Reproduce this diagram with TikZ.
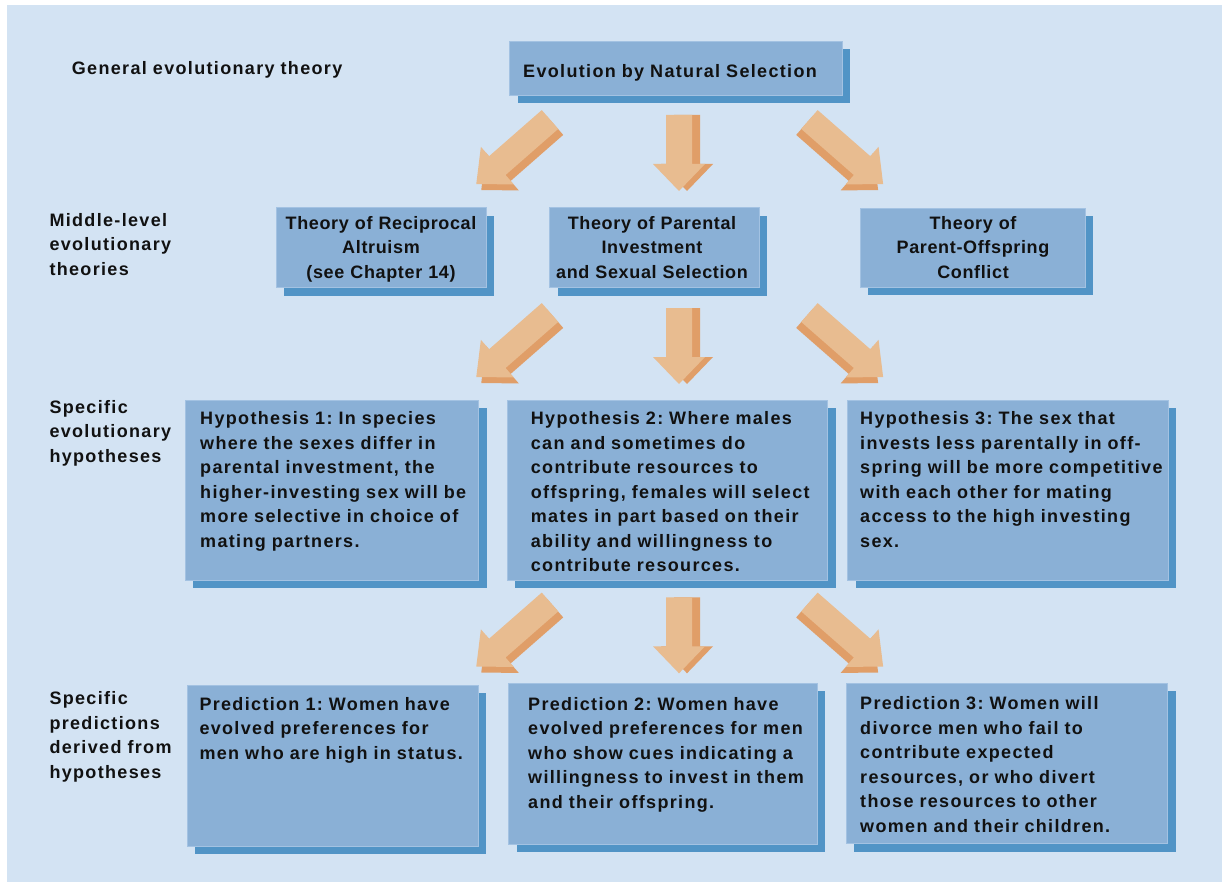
\documentclass[tikz,border=0pt]{standalone}
\usepackage{fontspec}
\setmainfont{Liberation Sans}[LetterSpace=7.4]
\newfontfamily\midfam{Liberation Sans}[LetterSpace=3.6]
\usetikzlibrary{shadows}
\definecolor{bgc}{HTML}{D3E3F3}
\definecolor{facec}{HTML}{8AB0D6}
\definecolor{edgec}{HTML}{A3C2E2}
\definecolor{shadowc}{HTML}{5194C6}
\definecolor{arrface}{HTML}{E8BC90}
\definecolor{arrdark}{HTML}{E09E68}
\definecolor{txtc}{HTML}{111111}
\frenchspacing
\newcommand\bodyfnt{\fontsize{18}{24.5}\selectfont\bfseries\frenchspacing}
\newcommand\midfnt{\midfam\fontsize{18}{24.5}\selectfont\bfseries\frenchspacing}
\tikzset{
  box/.style={fill=facec, draw=edgec, line width=0.8pt, inner sep=0pt, anchor=north west,
    drop shadow={shadow xshift=8pt, shadow yshift=-8pt, fill=shadowc, opacity=1}},
  txt/.style={inner sep=0pt, align=left, text width=360pt, anchor=base west, font=\bodyfnt, text=txtc},
  ctxt/.style={inner sep=0pt, align=center, text width=300pt, anchor=base, font=\midfnt, text=txtc},
  pics/barrow/.style n args={5}{code={
    \fill[#5] (-#2,0) -- (#2,0) -- (#2,#1) -- (#3,#1) -- (0,#1+#4) -- (-#3,#1) -- (-#2,#1) -- cycle;}},
}
\begin{document}
\begin{tikzpicture}[x=1pt, y=-1pt]
\useasboundingbox (0,0) rectangle (1222,882);
\fill[bgc] (7,5) rectangle (1222,882);

% boxes
\node[box, minimum width=332.4pt, minimum height=54pt] (top) at (509.3,41) {};
\node[box, minimum width=210pt, minimum height=80pt] (ra) at (276,207.3) {};
\node[box, minimum width=209.4pt, minimum height=80pt] (pi) at (549.3,207.3) {};
\node[box, minimum width=225pt, minimum height=79pt] (poc) at (860,207.7) {};
\node[box, minimum width=293.3pt, minimum height=180pt] (h1) at (185,400) {};
\node[box, minimum width=320.6pt, minimum height=180pt] (h2) at (506.7,400) {};
\node[box, minimum width=320.7pt, minimum height=180pt] (h3) at (847.3,400) {};
\node[box, minimum width=291pt, minimum height=160.7pt] (p1) at (186.7,685) {};
\node[box, minimum width=308.4pt, minimum height=160.8pt] (p2) at (508.3,682.7) {};
\node[box, minimum width=321.6pt, minimum height=160.6pt] (p3) at (845.7,682.7) {};

% box texts
\node[txt] (topt) at (523,78) {Evolution by Natural Selection};
\node[ctxt] (rat) at (381,229.5) {Theory of Reciprocal\\Altruism\\(see Chapter 14)};
\node[ctxt] (pit) at (652,229.5) {Theory of Parental\\Investment\\and Sexual Selection};
\node[ctxt] (poct) at (973,229.5) {Theory of\\Parent-Offspring\\Conflict};
\node[txt] (h1t) at (200,424.5) {Hypothesis 1: In species\\where the sexes differ in\\parental investment, the\\higher-investing sex will be\\more selective in choice of\\mating partners.};
\node[txt] (h2t) at (530.7,424.5) {Hypothesis 2: Where males\\can and sometimes do\\contribute resources to\\offspring, females will select\\mates in part based on their\\ability and willingness to\\contribute resources.};
\node[txt] (h3t) at (860,424.5) {Hypothesis 3: The sex that\\invests less parentally in off-\\spring will be more competitive\\with each other for mating\\access to the high investing\\sex.};
\node[txt] (p1t) at (199.3,710) {Prediction 1: Women have\\evolved preferences for\\men who are high in status.};
\node[txt] (p2t) at (528,710) {Prediction 2: Women have\\evolved preferences for men\\who show cues indicating a\\willingness to invest in them\\and their offspring.};
\node[txt] (p3t) at (860,709.5) {Prediction 3: Women will\\divorce men who fail to\\contribute expected\\resources, or who divert\\those resources to other\\women and their children.};

% level labels
\node[txt] (lab1) at (71.7,75) {General evolutionary theory};
\node[txt] (lab2) at (49.3,226.5) {Middle-level\\evolutionary\\theories};
\node[txt] (lab3) at (49.3,413) {Specific\\evolutionary\\hypotheses};
\node[txt] (lab4) at (49.3,704.5) {Specific\\predictions\\derived from\\hypotheses};

% block arrows
\foreach \yd/\yg in {115/119.5, 308/312.5, 597.3/602}{
  % left
  \pic[shift={(5,6)}, rotate=-48.8] at (550,\yg) {barrow={70}{12.5}{25}{28}{arrdark}};
  \pic[rotate=-48.8] at (550,\yg) {barrow={70}{12.5}{25}{28}{arrface}};
  % down
  \pic at (687,\yd) {barrow={49}{13}{26}{27}{arrdark}};
  \pic at (679,\yd) {barrow={49}{13}{26}{27}{arrface}};
  % right
  \pic[shift={(-5,6)}, rotate=48.8] at (809.4,\yg) {barrow={70}{12.5}{25}{28}{arrdark}};
  \pic[rotate=48.8] at (809.4,\yg) {barrow={70}{12.5}{25}{28}{arrface}};
}
\end{tikzpicture}
\end{document}
